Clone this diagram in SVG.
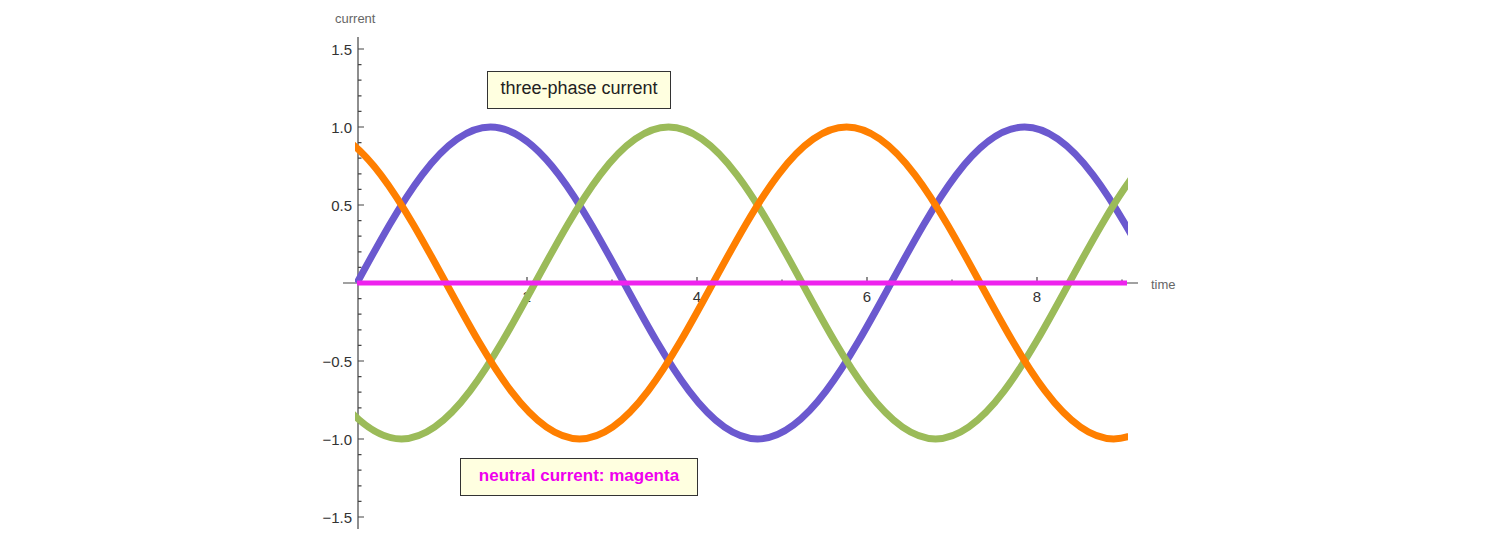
<svg xmlns="http://www.w3.org/2000/svg" xmlns:xlink="http://www.w3.org/1999/xlink" width="1500" height="537" viewBox="0 0 1500 537">
<style>
.ax{stroke:#444;stroke-width:1.2;fill:none}
.tk{font-family:"Liberation Sans",Arial,sans-serif;font-size:15px;fill:#333}
.al{font-family:"Liberation Sans",Arial,sans-serif;font-size:13px;fill:#666}
.c{fill:none;stroke-width:7}
.box{fill:#ffffe0;stroke:#333;stroke-width:1}
</style>
<defs>
<path id="w" d="M0,0 c43.54,-79.92 85.20,-156 133.52,-156 c48.32,0 89.98,76.08 133.52,156 c43.54,79.92 85.20,156 133.52,156 c48.32,0 89.98,-76.08 133.52,-156 c43.54,-79.92 85.20,-156 133.52,-156 c48.32,0 89.98,76.08 133.52,156 c43.54,79.92 85.20,156 133.52,156 c48.32,0 89.98,-76.08 133.52,-156 c43.54,-79.92 85.20,-156 133.52,-156 c48.32,0 89.98,76.08 133.52,156 c43.54,79.92 85.20,156 133.52,156 c48.32,0 89.98,-76.08 133.52,-156"/>
<clipPath id="cp"><rect x="355" y="0" width="773" height="537"/></clipPath>
</defs>
<rect width="1500" height="537" fill="#fff"/>
<g id="axes">
<path class="ax" d="M358,37V529M343,283H1138"/>
<path class="ax" d="M358,49h6M358,127h6M358,205h6M358,361h6M358,439h6M358,517h6M527,283v-6M697,283v-6M867,283v-6M1037,283v-6"/>
<path class="ax" stroke-width="0.8" d="M358,64.6h3.5M358,80.2h3.5M358,95.8h3.5M358,111.4h3.5M358,142.6h3.5M358,158.2h3.5M358,173.8h3.5M358,189.4h3.5M358,220.6h3.5M358,236.2h3.5M358,251.8h3.5M358,267.4h3.5M358,298.6h3.5M358,314.2h3.5M358,329.8h3.5M358,345.4h3.5M358,376.6h3.5M358,392.2h3.5M358,407.8h3.5M358,423.4h3.5M358,454.6h3.5M358,470.2h3.5M358,485.8h3.5M358,501.4h3.5M442,283v-3.5M612,283v-3.5M782,283v-3.5M952,283v-3.5M1122,283v-3.5"/>
<g class="tk" text-anchor="end">
<text x="352" y="55">1.5</text><text x="352" y="133">1.0</text><text x="352" y="211">0.5</text>
<text x="352" y="367">−0.5</text><text x="352" y="445">−1.0</text><text x="352" y="523">−1.5</text>
</g>
<g class="tk" text-anchor="middle">
<text x="527" y="302">2</text><text x="697" y="302">4</text><text x="867" y="302">6</text><text x="1037" y="302">8</text>
</g>
<text class="al" x="1151" y="289">time</text>
<text class="al" x="335" y="23">current</text>
</g>
<g id="curves" clip-path="url(#cp)">
<use xlink:href="#w" class="c" stroke="#6b59cf" transform="translate(357,283)"/>
<use xlink:href="#w" class="c" stroke="#9bbb59" transform="translate(0.95,283)"/>
<use xlink:href="#w" class="c" stroke="#ff7f00" transform="translate(178.98,283)"/>
<line x1="357" y1="283" x2="1127" y2="283" stroke="#ee22ee" stroke-width="5"/>
</g>
<g id="title">
<rect class="box" x="487.5" y="71.5" width="183" height="37"/>
<text x="579" y="94" text-anchor="middle" font-family="Liberation Sans,Arial,sans-serif" font-size="18" fill="#222">three‑phase current</text>
</g>
<g id="legend">
<rect class="box" x="460.5" y="458.5" width="237" height="37"/>
<text x="579" y="481" text-anchor="middle" font-family="Liberation Sans,Arial,sans-serif" font-size="17" font-weight="bold" fill="#ee00ee">neutral current: magenta</text>
</g>
</svg>
